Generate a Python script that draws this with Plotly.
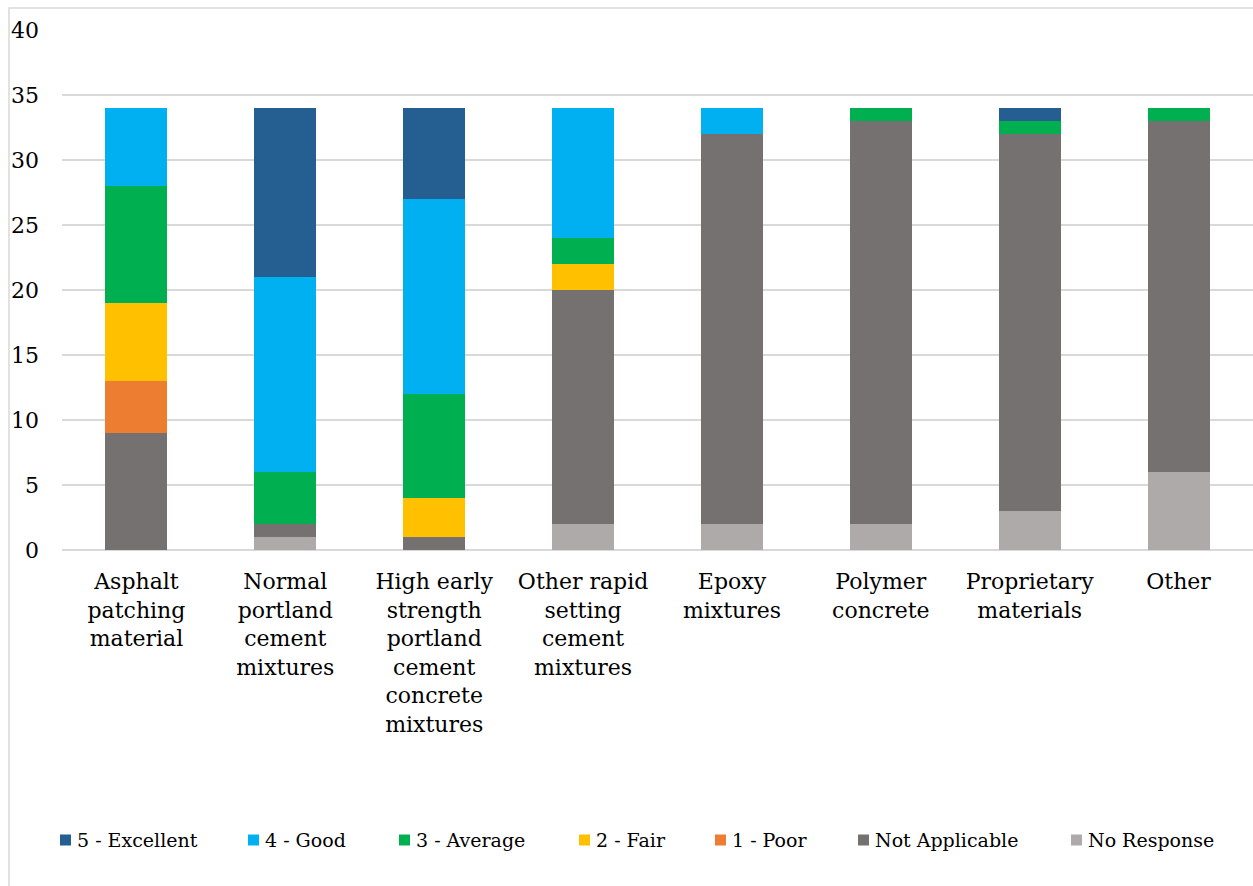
import plotly.graph_objects as go

categories = [
    "Asphalt<br>patching<br>material",
    "Normal<br>portland<br>cement<br>mixtures",
    "High early<br>strength<br>portland<br>cement<br>concrete<br>mixtures",
    "Other rapid<br>setting<br>cement<br>mixtures",
    "Epoxy<br>mixtures",
    "Polymer<br>concrete",
    "Proprietary<br>materials",
    "Other",
]

no_response = [0, 1, 0, 2, 2, 2, 3, 6]
not_applicable = [9, 1, 1, 18, 30, 31, 29, 27]
poor = [4, 0, 0, 0, 0, 0, 0, 0]
fair = [6, 0, 3, 2, 0, 0, 0, 0]
average = [9, 4, 8, 2, 0, 1, 1, 1]
good = [6, 15, 15, 10, 2, 0, 0, 0]
excellent = [0, 13, 7, 0, 0, 0, 1, 0]

# bottom-to-top stacking order
series = [
    ("No Response", no_response, "#AEAAAA"),
    ("Not Applicable", not_applicable, "#767171"),
    ("1 - Poor", poor, "#ED7D31"),
    ("2 - Fair", fair, "#FFC000"),
    ("3 - Average", average, "#00B050"),
    ("4 - Good", good, "#00B0F0"),
    ("5 - Excellent", excellent, "#255E91"),
]

FONT = "DejaVu Serif, Liberation Serif, Times New Roman, serif"

W, H = 1253, 886
ML, MR, MT, MB = 62, 0, 30, 336
PW, PH = W - ML - MR, H - MT - MB


def px_x(x):
    return (x - ML) / PW


def px_y(y):
    return (H - MB - y) / PH


fig = go.Figure()
for name, vals, color in series:
    fig.add_trace(go.Bar(
        x=list(range(len(categories))),
        y=vals,
        name=name,
        marker=dict(color=color, line=dict(width=0)),
        showlegend=False,
    ))

# legend row along the bottom (top series first)
legend_left = [60, 248, 399, 579, 715, 858, 1071]
box = 11
legend_y = 840
shapes = [
    dict(
        type="rect", xref="paper", yref="paper",
        x0=px_x(9), x1=px_x(1270), y0=px_y(900), y1=px_y(8),
        line=dict(color="#D9D9D9", width=1.5),
        fillcolor="rgba(0,0,0,0)", layer="below",
    )
]
annotations = []
for (name, _, color), lx in zip(reversed(series), legend_left):
    shapes.append(dict(
        type="rect", xref="paper", yref="paper",
        x0=px_x(lx), x1=px_x(lx + box),
        y0=px_y(legend_y + box / 2), y1=px_y(legend_y - box / 2),
        fillcolor=color, line=dict(width=0),
    ))
    annotations.append(dict(
        xref="paper", yref="paper",
        x=px_x(lx + box + 4), y=px_y(legend_y),
        xanchor="left", yanchor="middle",
        text=name, showarrow=False,
        font=dict(family=FONT, size=19, color="#000000"),
    ))

fig.update_layout(
    barmode="stack",
    bargap=0.584,
    width=W,
    height=H,
    margin=dict(l=ML, r=MR, t=MT, b=MB),
    paper_bgcolor="white",
    plot_bgcolor="white",
    font=dict(family=FONT, color="#000000"),
    showlegend=False,
    xaxis=dict(
        tickmode="array",
        tickvals=list(range(len(categories))),
        ticktext=categories,
        tickfont=dict(family=FONT, size=22),
        showgrid=False,
        showline=False,
        ticks="",
        ticklabelstandoff=16,
        range=[-0.5, len(categories) - 0.5],
    ),
    yaxis=dict(
        range=[0, 40],
        dtick=5,
        tickfont=dict(family=FONT, size=22),
        showgrid=True,
        gridcolor="#D9D9D9",
        gridwidth=1.5,
        zeroline=True,
        zerolinecolor="#D9D9D9",
        zerolinewidth=1.5,
        showline=False,
        ticks="",
        ticklabelstandoff=22,
    ),
    shapes=shapes,
    annotations=annotations,
)

fig.write_html("out.html")
